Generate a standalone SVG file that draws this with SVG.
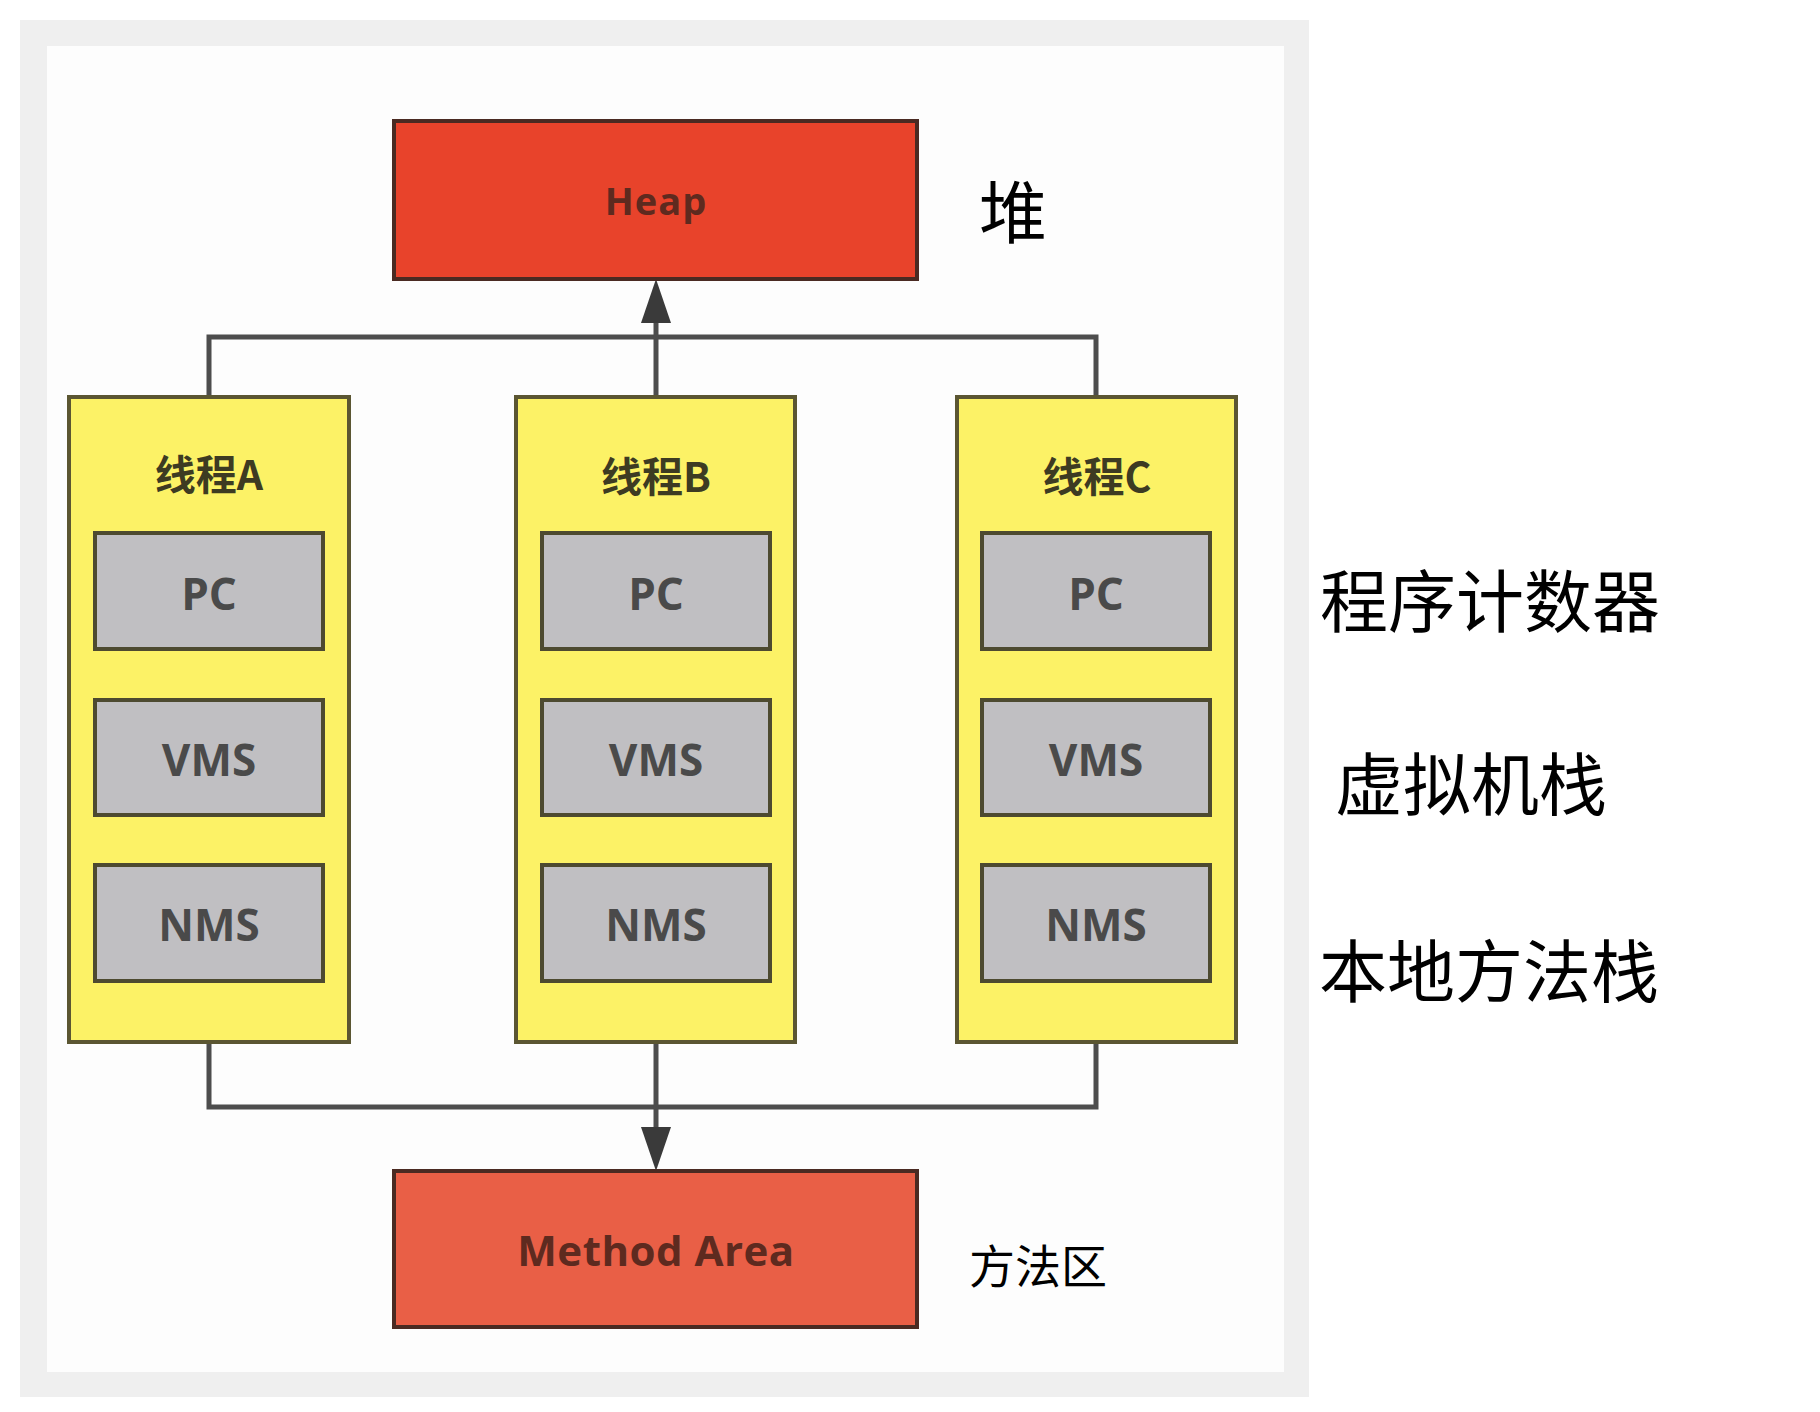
<svg xmlns="http://www.w3.org/2000/svg" width="1820" height="1412" viewBox="0 0 1820 1412">
  <defs>
    <style>
      .thread { fill: #fcf266; stroke: #5b5632; stroke-width: 4; }
      .cell { fill: #c0bfc2; stroke: #4d4a30; stroke-width: 4; }
      .heap { fill: #e8432b; stroke: #4a2a22; stroke-width: 4; }
      .method { fill: #e95f46; stroke: #4a2a22; stroke-width: 4; }
      .title { font-family: "Noto Sans CJK SC", "Noto Sans", sans-serif; font-weight: 700; font-size: 41px; fill: #3d3b22; text-anchor: middle; }
      .cellt { font-family: "Open Sans", "Liberation Sans", sans-serif; font-weight: 700; font-size: 44px; fill: #4a4a4a; text-anchor: middle; }
      .boxt { font-family: "Open Sans", "Liberation Sans", sans-serif; font-weight: 700; fill: #5e2a1f; text-anchor: middle; }
      .note { font-family: "Noto Sans CJK SC", "Noto Sans", sans-serif; font-weight: 400; fill: #000000; }
      .wire { fill: none; stroke: #4d4d4d; stroke-width: 5; }
    </style>
    <marker id="arrow" markerUnits="userSpaceOnUse" markerWidth="44" markerHeight="30" viewBox="0 0 44 30" refX="22" refY="15" orient="auto">
      <path d="M0,0 L44,15 L0,30 Z" fill="#3a3a3a"/>
    </marker>
  </defs>

  <rect x="0" y="0" width="1820" height="1412" fill="#ffffff"/>
  <rect x="20" y="20" width="1289" height="1377" fill="#efefef"/>
  <rect x="47" y="46" width="1237" height="1326" fill="#fdfdfd"/>

  <g id="connectors">
    <path class="wire" d="M209,397 V337 H1096 V397"/>
    <path class="wire" d="M656,397 V301" marker-end="url(#arrow)"/>
    <path class="wire" d="M209,1042 V1107 H1096 V1042"/>
    <path class="wire" d="M656,1042 V1149" marker-end="url(#arrow)"/>
  </g>

  <g id="heap">
    <rect class="heap" x="394" y="121" width="523" height="158"/>
    <text class="boxt" x="656" y="215" font-size="38" letter-spacing="1">Heap</text>
  </g>

  <g id="method-area">
    <rect class="method" x="394" y="1171" width="523" height="156"/>
    <text class="boxt" x="656" y="1266" font-size="42" letter-spacing="0.5">Method Area</text>
  </g>

  <g id="thread-a">
    <rect class="thread" x="69" y="397" width="280" height="645"/>
    <text class="title" x="209" y="490">线程A</text>
    <rect class="cell" x="95" y="533" width="228" height="116"/>
    <text class="cellt" x="209" y="610">PC</text>
    <rect class="cell" x="95" y="700" width="228" height="115"/>
    <text class="cellt" x="209" y="776">VMS</text>
    <rect class="cell" x="95" y="865" width="228" height="116"/>
    <text class="cellt" x="209" y="941">NMS</text>
  </g>

  <g id="thread-b">
    <rect class="thread" x="516" y="397" width="279" height="645"/>
    <text class="title" x="656" y="492">线程B</text>
    <rect class="cell" x="542" y="533" width="228" height="116"/>
    <text class="cellt" x="656" y="610">PC</text>
    <rect class="cell" x="542" y="700" width="228" height="115"/>
    <text class="cellt" x="656" y="776">VMS</text>
    <rect class="cell" x="542" y="865" width="228" height="116"/>
    <text class="cellt" x="656" y="941">NMS</text>
  </g>

  <g id="thread-c">
    <rect class="thread" x="957" y="397" width="279" height="645"/>
    <text class="title" x="1097" y="492">线程C</text>
    <rect class="cell" x="982" y="533" width="228" height="116"/>
    <text class="cellt" x="1096" y="610">PC</text>
    <rect class="cell" x="982" y="700" width="228" height="115"/>
    <text class="cellt" x="1096" y="776">VMS</text>
    <rect class="cell" x="982" y="865" width="228" height="116"/>
    <text class="cellt" x="1096" y="941">NMS</text>
  </g>

  <g id="labels">
    <text class="note" x="979" y="238" font-size="68">堆</text>
    <text class="note" x="1320" y="627" font-size="68">程序计数器</text>
    <text class="note" x="1335" y="810" font-size="68">虚拟机栈</text>
    <text class="note" x="1319" y="997" font-size="68">本地方法栈</text>
    <text class="note" x="969" y="1283" font-size="46">方法区</text>
  </g>
</svg>
